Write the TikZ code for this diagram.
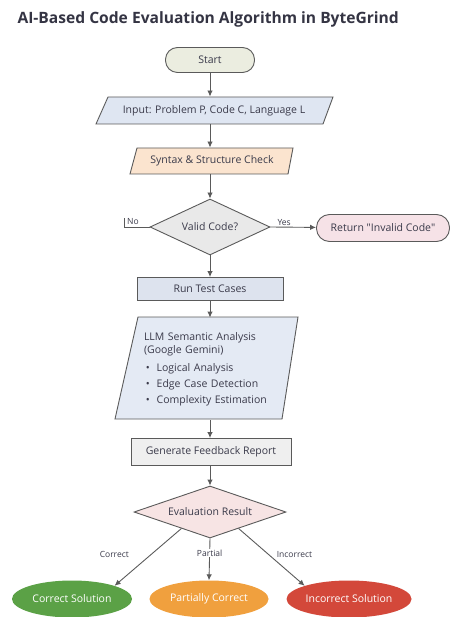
\documentclass[tikz,border=0pt]{standalone}
\usepackage{fontspec}
\setmainfont{Open Sans}
\usetikzlibrary{shapes.geometric,arrows.meta,calc}
\definecolor{edge}{HTML}{5A5A5A}
\definecolor{cstart}{HTML}{EBEDE0}
\definecolor{cinput}{HTML}{DFE6F2}
\definecolor{csyntax}{HTML}{FBE4CF}
\definecolor{cvalid}{HTML}{E9E9E9}
\definecolor{creturn}{HTML}{F6E2E7}
\definecolor{crun}{HTML}{DDE3EE}
\definecolor{cllm}{HTML}{E4EAF4}
\definecolor{cgen}{HTML}{EFEFEF}
\definecolor{ceval}{HTML}{F7E4E4}
\definecolor{cgreen}{HTML}{5BA146}
\definecolor{corange}{HTML}{F0A03E}
\definecolor{cred}{HTML}{D3483A}
\definecolor{ctext}{HTML}{3A3A4A}
\tikzset{
  box/.style={draw=edge, line width=0.9pt, text=ctext, font=\fontsize{10.5}{13}\selectfont, inner sep=0pt, align=center},
  pill/.style={box, rounded corners=12pt},
  dia/.style={box, diamond, aspect=2.2},
  oval/.style={ellipse, draw=none, text=white, font=\fontsize{10.5}{12}\selectfont, inner sep=0pt},
  lbl/.style={inner sep=0pt, text=ctext, font=\fontsize{8.5}{10}\selectfont},
  arr/.style={draw=edge, line width=0.9pt, -{Latex[length=6pt,width=5.5pt]}},
  ln/.style={draw=edge, line width=0.9pt},
}
\begin{document}
\begin{tikzpicture}[x=1pt,y=-1pt]
\useasboundingbox (0,0) rectangle (450,617);
\node[anchor=west, font=\bfseries\fontsize{15.6}{18}\selectfont, text=ctext!90!black] (title) at (14,19) {AI-Based Code Evaluation Algorithm in ByteGrind};

\node[pill, fill=cstart, minimum width=89pt, minimum height=25pt] (start) at (210,60) {Start};

% input parallelogram
\filldraw[draw=edge, fill=cinput, line width=0.9pt] (108,97) -- (333,97) -- (323,124) -- (96,124) -- cycle;
\node[box, draw=none, minimum width=200pt, minimum height=27pt] (input) at (214,110.5) {Input: Problem P, Code C, Language L};

% syntax parallelogram
\filldraw[draw=edge, fill=csyntax, line width=0.9pt] (137,148) -- (293,148) -- (288,174) -- (130,174) -- cycle;
\node[box, draw=none, minimum width=140pt, minimum height=26pt] (syntax) at (212,161) {Syntax \& Structure Check};

\node[dia, fill=cvalid, minimum width=120pt, minimum height=56pt] (valid) at (210,227) {Valid Code?};

\node[pill, fill=creturn, minimum width=133pt, minimum height=27pt, rounded corners=13pt] (ret) at (383,228) {Return \textquotedbl Invalid Code\textquotedbl};

\node[box, fill=crun, minimum width=146pt, minimum height=23pt] (run) at (210,289) {Run Test Cases};

% llm parallelogram
\filldraw[draw=edge, fill=cllm, line width=0.9pt] (138,317) -- (298,317) -- (282,419) -- (115,419) -- cycle;
\node[box, draw=none, minimum width=150pt, minimum height=102pt, align=left, text width=124pt] (llm) at (206,369) {LLM Semantic Analysis\\(Google Gemini)\\[5pt]
\,\textbullet\ \ Logical Analysis\\[3pt]
\,\textbullet\ \ Edge Case Detection\\[3pt]
\,\textbullet\ \ Complexity Estimation};

\node[box, fill=cgen, minimum width=160pt, minimum height=27pt] (gen) at (211,452) {Generate Feedback Report};

\node[dia, fill=ceval, minimum width=152pt, minimum height=52pt] (eval) at (210,512) {Evaluation Result};

\node[oval, fill=cgreen, minimum width=120pt, minimum height=37pt] (cs) at (72,599) {Correct Solution};
\node[oval, fill=corange, minimum width=119pt, minimum height=37pt] (pc) at (209,599) {Partially Correct};
\node[oval, fill=cred, minimum width=125pt, minimum height=37pt] (is) at (349,599) {Incorrect Solution};

\coordinate (nox) at (124,227);
\coordinate (notick) at (124,218);

\draw[arr] (start.south) -- (start.south |- input.north);
\draw[arr] (start.south |- input.south) -- (start.south |- syntax.north);
\draw[arr] (start.south |- syntax.south) -- (valid.north);
\draw[ln] (valid.west) -- (nox) -- (notick);
\node[lbl, anchor=south west] (nolbl) at (127,225) {No};
\draw[arr] (valid.east) -- node[lbl, pos=0.3, above=1.5pt] (yeslbl) {Yes} (ret);
\draw[arr] (valid) -- (run);
\draw[arr] (run.south) -- (run.south |- llm.north);
\draw[arr] (run.south |- llm.south) -- (run.south |- gen.north);
\draw[arr] (run.south |- gen.south) -- (eval.north);
\draw[arr] (eval.210) -- node[lbl, pos=0.45, left=22pt] (l1) {Correct} (cs.north east);
\draw[arr] (eval.south) -- node[lbl, pos=0.35, fill=white, inner sep=1pt] (l2) {Partial} (pc.north);
\draw[arr] (eval.330) -- node[lbl, pos=0.45, right=8pt] (l3) {Incorrect} (is.north west);
\end{tikzpicture}
\end{document}
